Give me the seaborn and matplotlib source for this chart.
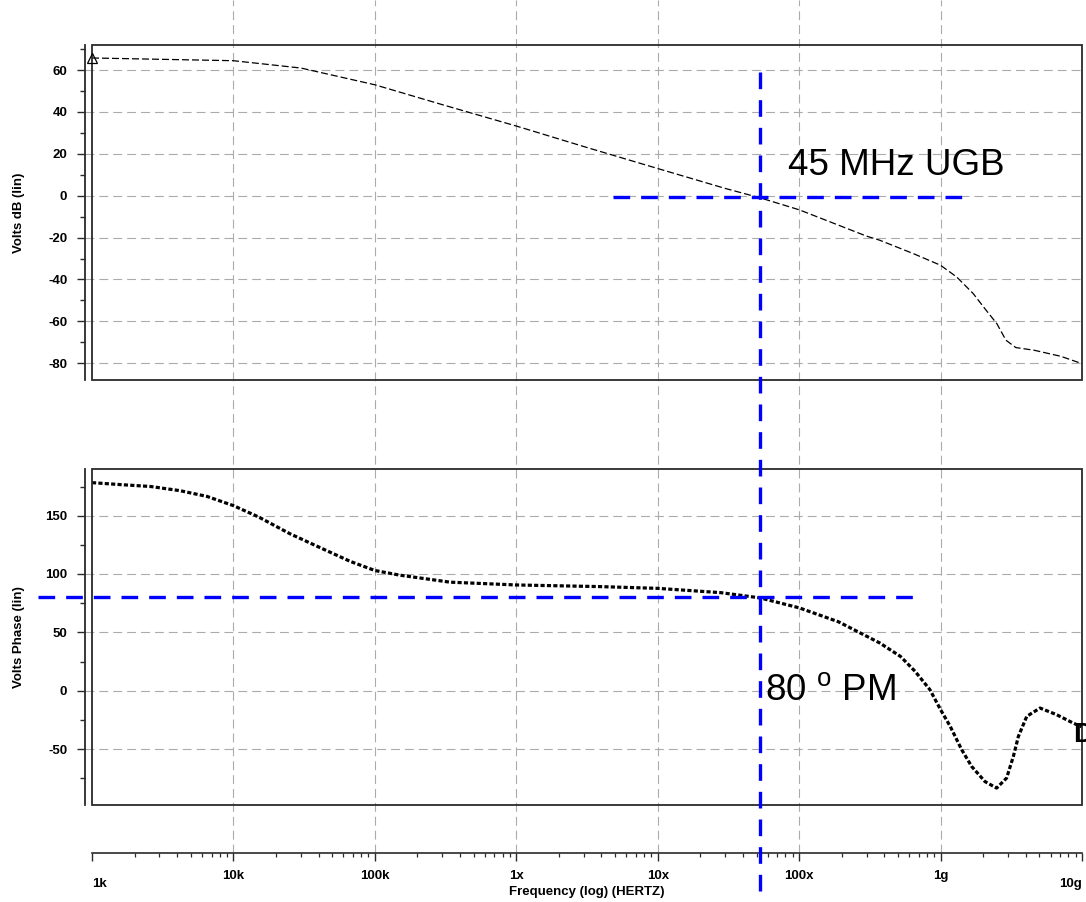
import numpy as np
import pandas as pd
import matplotlib
matplotlib.use("Agg")
import matplotlib.pyplot as plt
import seaborn as sns
from matplotlib.patches import Rectangle
from matplotlib.ticker import FixedLocator, LogLocator, MultipleLocator, NullFormatter

# ---------------- data ----------------
mag_freq = [1.0e3, 1.0e4, 3.0e4, 1.0e5, 3.0e5, 1.0e6, 3.0e6, 1.0e7, 3.0e7, 5.3e7,
            1.0e8, 3.0e8, 3.7e8, 6.4e8, 1.0e9, 1.3e9, 1.7e9, 2.1e9, 2.5e9, 2.9e9,
            3.4e9, 4.6e9, 7.1e9, 1.0e10]
mag_db = [65.8, 64.5, 61.0, 53.0, 43.5, 33.3, 23.5, 13.0, 3.5, -1.0,
          -6.7, -19.3, -21.2, -27.6, -33.2, -38.8, -46.7, -54.7, -61.1, -69.0,
          -72.5, -73.8, -76.7, -80.2]

phase_freq = [1.0e3, 1.6e3, 2.6e3, 4.2e3, 6.5e3, 1.0e4, 1.5e4, 2.5e4, 4.1e4, 6.7e4,
              1.0e5, 1.5e5, 3.4e5, 1.0e6, 3.9e6, 1.0e7, 2.8e7, 5.3e7, 1.0e8, 1.9e8,
              3.7e8, 5.2e8, 6.6e8, 8.4e8, 1.0e9, 1.17e9, 1.41e9, 1.66e9, 2.06e9, 2.49e9,
              2.93e9, 3.27e9, 3.55e9, 4.07e9, 5.05e9, 6.62e9, 8.63e9, 1.0e10]
phase_deg = [178.3, 176.6, 175.0, 171.4, 166.5, 158.6, 149.0, 134.6, 122.6, 110.8,
             103.0, 99.0, 93.0, 90.6, 89.2, 87.7, 84.0, 79.5, 71.0, 59.0,
             41.0, 29.4, 16.6, 0.9, -16.3, -30.6, -50.6, -65.0, -77.9, -83.5,
             -74.9, -56.4, -39.2, -22.0, -14.9, -20.6, -27.7, -31.0]

x_tick_freqs = [1e3, 1e4, 1e5, 1e6, 1e7, 1e8, 1e9, 1e10]
x_tick_labels = ["1k", "10k", "100k", "1x", "10x", "100x", "1g", "10g"]
mag_ticks = [60, 40, 20, 0, -20, -40, -60, -80]
phase_ticks = [150, 100, 50, 0, -50]

ugb_freq = 5.3e7
ugb_db = -0.5
pm_deg = 80
ugb_text = "45 MHz UGB"
pm_text = r"80 $^{\mathrm{o}}$ PM"

# ---------------- style ----------------
sns.set_theme(style="white", rc={"text.color": "black", "axes.labelcolor": "black",
                                 "xtick.color": "black", "ytick.color": "black"})
plt.rcParams["font.family"] = ["Liberation Sans", "DejaVu Sans"]
plt.rcParams["mathtext.fontset"] = "custom"
plt.rcParams["mathtext.rm"] = "Liberation Sans"
plt.rcParams["mathtext.it"] = "Liberation Sans:italic"
plt.rcParams["mathtext.bf"] = "Liberation Sans:bold"
plt.rcParams["axes.unicode_minus"] = False

W, H = 1086, 902
fig = plt.figure(figsize=(W / 100, H / 100), dpi=100, facecolor="white")


def rect(x0, y0, x1, y1):
    return [x0 / W, 1 - y1 / H, (x1 - x0) / W, (y1 - y0) / H]


L, R = 92, 1082
RULER_Y = 853
GRID_C = "#ababab"
BLUE = "#0000ff"
SPINE_C = "#2a2a2a"
TICK_FS = 9.5

ax_r = fig.add_axes(rect(L, 0, R, RULER_Y), zorder=0)
ax_t = fig.add_axes(rect(L, 45, R, 380), zorder=3)
ax_b = fig.add_axes(rect(L, 469, R, 805), zorder=2)

for ax in (ax_r, ax_t, ax_b):
    ax.set_facecolor("none")
    ax.set_xscale("log")
    ax.set_xlim(1e3, 1e10)
    ax.grid(False)

# ---------------- ruler (frequency axis) ----------------
for s in ("top", "left", "right"):
    ax_r.spines[s].set_visible(False)
ax_r.spines["bottom"].set_color(SPINE_C)
ax_r.spines["bottom"].set_linewidth(1.2)
ax_r.set_ylim(0, 1)
ax_r.set_yticks([])
ax_r.xaxis.set_major_locator(FixedLocator(x_tick_freqs))
ax_r.xaxis.set_minor_locator(LogLocator(base=10, subs=np.arange(2, 10)))
ax_r.xaxis.set_minor_formatter(NullFormatter())
ax_r.tick_params(axis="x", which="major", bottom=True, length=5.8, width=1.0,
                 direction="out", color=SPINE_C, labelbottom=False)
ax_r.tick_params(axis="x", which="minor", bottom=True, length=3.0, width=0.9,
                 direction="out", color=SPINE_C)
for f in x_tick_freqs[1:-1]:
    ax_r.axvline(f, color=GRID_C, lw=0.8, dashes=(8, 4.5), zorder=0)

xt = ax_r.get_xaxis_transform()
n = len(x_tick_freqs)
for i, (f, lab) in enumerate(zip(x_tick_freqs, x_tick_labels)):
    if i == 0:
        ha, yy = "left", -(884 - RULER_Y) / RULER_Y
    elif i == n - 1:
        ha, yy = "right", -(884 - RULER_Y) / RULER_Y
    else:
        ha, yy = "center", -(876 - RULER_Y) / RULER_Y
    ax_r.text(f, yy, lab, transform=xt, ha=ha, va="center",
              fontsize=TICK_FS, fontweight="bold", clip_on=False)
ax_r.text(0.5, -(892 - RULER_Y) / RULER_Y, "Frequency (log) (HERTZ)",
          transform=ax_r.transAxes, ha="center", va="center",
          fontsize=TICK_FS, fontweight="bold", clip_on=False)


# ---------------- helper for plot panels ----------------
def style_panel(ax, ticks, minor_step, ylim):
    ax.set_ylim(*ylim)
    for s in ("top", "bottom", "right"):
        ax.spines[s].set_visible(False)
    ax.spines["left"].set_position(("outward", 5.0))
    ax.spines["left"].set_color(SPINE_C)
    ax.spines["left"].set_linewidth(1.3)
    ax.add_patch(Rectangle((0, 0), 1, 1, transform=ax.transAxes, fill=False,
                           ec=SPINE_C, lw=1.3, clip_on=False, zorder=4))
    ax.yaxis.set_major_locator(FixedLocator(ticks))
    ax.yaxis.set_minor_locator(MultipleLocator(minor_step))
    ax.tick_params(axis="y", which="major", left=True, length=5.8, width=1.0,
                   direction="out", color=SPINE_C, pad=7, labelsize=TICK_FS)
    ax.tick_params(axis="y", which="minor", left=True, length=3.6, width=1.0,
                   direction="out", color=SPINE_C)
    for lab in ax.get_yticklabels():
        lab.set_fontweight("bold")
    ax.tick_params(axis="x", which="both", bottom=False, top=False,
                   labelbottom=False)
    for v in ticks:
        ax.axhline(v, xmin=-7 / (R - L), xmax=1, color=GRID_C, lw=0.8,
                   dashes=(8, 4.5), clip_on=False, zorder=0.5)


style_panel(ax_t, mag_ticks, 10, (-88, 72))
style_panel(ax_b, phase_ticks, 25, (-98, 190))

# ---------------- curves ----------------
mag_df = pd.DataFrame({"freq": mag_freq, "db": mag_db})
sns.lineplot(data=mag_df, x="freq", y="db", ax=ax_t, color="black", lw=0.9,
             zorder=3)
ax_t.lines[-1].set_dashes((5.6, 2.4))
ax_t.plot(mag_freq[:1], mag_db[:1], marker="^", ms=7, mfc="none", mec="black",
          mew=0.9, ls="none", clip_on=False, zorder=5)

ph_df = pd.DataFrame({"freq": phase_freq, "deg": phase_deg})
sns.lineplot(data=ph_df, x="freq", y="deg", ax=ax_b, color="black", lw=2.3,
             zorder=3)
ax_b.lines[-1].set_dashes((1.3, 0.7))

ax_t.set_xlabel("")
ax_b.set_xlabel("")
ax_t.set_ylabel("Volts dB (lin)", fontsize=TICK_FS, fontweight="bold")
ax_b.set_ylabel("Volts Phase (lin)", fontsize=TICK_FS, fontweight="bold")
ax_t.yaxis.set_label_coords((25 - L) / (R - L), 0.5)
ax_b.yaxis.set_label_coords((25 - L) / (R - L), 0.5)
ax_t.set_xlim(1e3, 1e10)
ax_b.set_xlim(1e3, 1e10)
ax_t.set_ylim(-88, 72)
ax_b.set_ylim(-98, 190)

# ---------------- markers of UGB / PM ----------------
blue_kw = dict(color=BLUE, lw=2.4, dashes=(5.0, 3.3), clip_on=False, zorder=6)
ax_t.plot([4.8e6, 1.44e9], [ugb_db, ugb_db], **blue_kw)
y_fig_bottom = ax_t.transData.inverted().transform((0, 0))[1]
ax_t.plot([ugb_freq, ugb_freq], [59, y_fig_bottom], **blue_kw)
ax_b.plot([4.15e2, 7.2e8], [pm_deg, pm_deg], **blue_kw)

ax_t.text(8.34e7, 9.8, ugb_text, fontsize=26.5, va="baseline", ha="left",
          color="black", zorder=7)
ax_b.text(5.74e7, -7.7, pm_text, fontsize=26.5, va="baseline", ha="left",
          color="black", zorder=7)
ax_b.text(8.63e9, -43.8, "D", fontsize=20, fontweight="bold", va="baseline",
          ha="left", color="black", clip_on=False, zorder=7)

fig.savefig("out.png", dpi=100, facecolor="white")
